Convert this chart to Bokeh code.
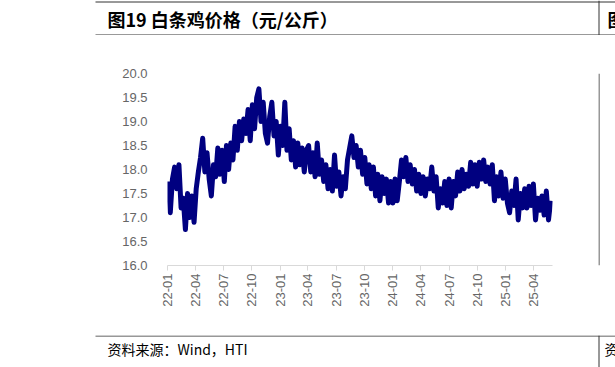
import math
import pandas as pd
from bokeh.plotting import figure
from bokeh.layouts import column, row
from bokeh.models import Range1d, FixedTicker, NumeralTickFormatter
from bokeh.core.properties import value
from bokeh.embed import file_html
from bokeh.resources import INLINE

title_text = "图19 白条鸡价格（元/公斤）"
source_text = "资料来源：Wind，HTI"
next_title_text = "图"
next_source_text = "资"

start_date = "2022-01-03"
# weekly readings (yuan/kg)
prices = [
    17.75, 17.10, 17.80, 18.05, 17.60, 18.10, 17.20, 17.40, 16.75, 17.50, 17.00, 17.45, 16.90,
    17.60, 17.95, 18.25, 18.65, 17.95, 18.35, 17.80, 17.45, 18.10, 17.85, 18.45, 17.90, 18.40,
    17.75, 18.50, 18.00, 18.55, 18.20, 18.90, 18.40, 19.00, 18.60, 19.05, 18.75, 19.25, 18.60,
    19.35, 18.85, 19.50, 19.68, 19.00, 19.40, 18.75, 18.55, 19.10, 19.40, 18.70, 19.00, 18.30,
    18.90, 18.50, 19.40, 18.40, 18.85, 18.20, 18.60, 18.05, 18.55, 18.10, 18.45, 17.95, 18.40,
    18.50, 17.95, 18.35, 17.85, 18.55, 17.90, 18.20, 17.75, 18.10, 17.60, 18.00, 17.55, 18.30,
    17.65, 17.95, 17.45, 17.85, 17.60, 18.20, 18.45, 18.70, 18.25, 18.50, 18.05, 18.40, 17.90,
    18.25, 17.70, 18.10, 17.60, 18.05, 17.45, 17.90, 17.35, 17.85, 17.50, 17.80, 17.30, 17.75,
    17.30, 17.80, 17.35, 17.75, 18.20, 17.85, 18.25, 17.75, 18.10, 17.70, 18.00, 17.55, 17.90,
    17.50, 17.85, 17.45, 17.80, 17.60, 18.05, 17.55, 17.85, 17.20, 17.60, 17.30, 17.75, 17.25,
    17.80, 17.20, 17.75, 17.45, 17.95, 17.55, 18.00, 17.60, 17.90, 17.65, 18.15, 17.70, 18.10,
    17.65, 18.15, 17.80, 18.20, 17.75, 18.05, 17.70, 18.10, 17.35, 17.85, 17.45, 17.95, 17.40,
    17.80, 17.30, 17.10, 17.55, 17.25, 17.80, 16.95, 17.50, 17.20, 17.60, 17.20, 17.65, 17.25,
    17.70, 16.95, 17.40, 17.15, 17.45, 17.05, 17.55, 16.95, 17.35,
]
dates = pd.date_range(start_date, periods=len(prices), freq="7D")

tick_dates = ["2022-01-01", "2022-04-01", "2022-07-01", "2022-10-01",
              "2023-01-01", "2023-04-01", "2023-07-01", "2023-10-01",
              "2024-01-01", "2024-04-01", "2024-07-01", "2024-10-01",
              "2025-01-01", "2025-04-01"]
tick_labels = ["22-01", "22-04", "22-07", "22-10", "23-01", "23-04", "23-07",
               "23-10", "24-01", "24-04", "24-07", "24-10", "25-01", "25-04"]
y_ticks = [16.0, 16.5, 17.0, 17.5, 18.0, 18.5, 19.0, 19.5, 20.0]
x_start, x_end = "2022-01-01", "2025-06-01"


def to_ms(d):
    return pd.Timestamp(d).value / 1e6


W, H = 615, 367
HEAD_H, FOOT_H = 35, 32
MID_H = H - HEAD_H - FOOT_H
DIV_X = 598            # x of the vertical divider
RULE = "#333333"


def strip(width, height):
    """A plain figure whose frame is the whole canvas, in pixel coordinates."""
    f = figure(width=width, height=height, output_backend="svg", toolbar_location=None,
               x_range=Range1d(0, width), y_range=Range1d(height, 0),
               x_axis_location=None, y_axis_location=None, min_border=0)
    f.outline_line_color = None
    f.xgrid.visible = False
    f.ygrid.visible = False
    f.background_fill_color = "white"
    f.border_fill_color = "white"
    return f


# ---- header strip
head = strip(W, HEAD_H)
head.segment(x0=[95, 95, DIV_X + 0.5], y0=[1.5, 34.5, 0], x1=[W, W, DIV_X + 0.5],
             y1=[1.5, 34.5, HEAD_H], line_color=RULE, line_width=1)
head.text(x=[107, 607], y=[18, 18], text=[title_text, next_title_text],
          text_font=value("Noto Sans CJK SC"), text_font_style="bold",
          text_font_size=value("18px"), text_color="black",
          text_align="left", text_baseline="middle")

# ---- chart
BL, BR, BT, BB = 167, 46, 73 - HEAD_H, (HEAD_H + MID_H) - 265
p = figure(width=DIV_X, height=MID_H, output_backend="svg", toolbar_location=None,
           x_axis_type="datetime",
           x_range=Range1d(to_ms(x_start), to_ms(x_end)),
           y_range=Range1d(y_ticks[0], y_ticks[-1]),
           min_border_left=BL, min_border_right=BR,
           min_border_top=BT, min_border_bottom=BB)
p.outline_line_color = None
p.xgrid.visible = False
p.ygrid.visible = False
p.background_fill_color = "white"
p.border_fill_color = "white"

p.line(dates, prices, line_color="#000080", line_width=5, line_join="round")

tick_ms = [to_ms(d) for d in tick_dates]
p.xaxis.ticker = FixedTicker(ticks=tick_ms)
p.xaxis.major_label_overrides = dict(zip(tick_ms, tick_labels))
p.xaxis.major_label_orientation = math.pi / 2
p.xaxis.axis_line_color = "#d9d9d9"
p.xaxis.major_tick_line_color = "#d9d9d9"
p.xaxis.major_tick_in = 0
p.xaxis.major_tick_out = 5
p.xaxis.minor_tick_line_color = None
p.xaxis.major_label_standoff = 3
p.xaxis.major_label_text_font = "Liberation Sans"
p.xaxis.major_label_text_font_size = "13px"
p.xaxis.major_label_text_color = "#666666"

p.yaxis.ticker = FixedTicker(ticks=y_ticks)
p.yaxis.formatter = NumeralTickFormatter(format="0.0")
p.yaxis.axis_line_color = None
p.yaxis.major_tick_line_color = None
p.yaxis.minor_tick_line_color = None
p.yaxis.major_label_standoff = 14
p.yaxis.major_label_text_font = "Liberation Sans"
p.yaxis.major_label_text_font_size = "13px"
p.yaxis.major_label_text_color = "#666666"

# ---- strip right of the divider, beside the chart
side = strip(W - DIV_X, MID_H)
side.segment(x0=[0.5], y0=[0], x1=[0.5], y1=[MID_H], line_color=RULE, line_width=1)

# ---- footer strip
foot = strip(W, FOOT_H)
foot.segment(x0=[95, DIV_X + 0.5], y0=[0.5, 0], x1=[W, DIV_X + 0.5], y1=[0.5, FOOT_H],
             line_color=RULE, line_width=1)
foot.text(x=[107, 604], y=[13, 13], text=[source_text, next_source_text],
          text_font=value("Noto Sans CJK SC"), text_font_size=value("14px"),
          text_color="black", text_align="left", text_baseline="middle")

layout = column(head, row(p, side), foot)
open("out.html", "w").write(file_html(layout, INLINE))
